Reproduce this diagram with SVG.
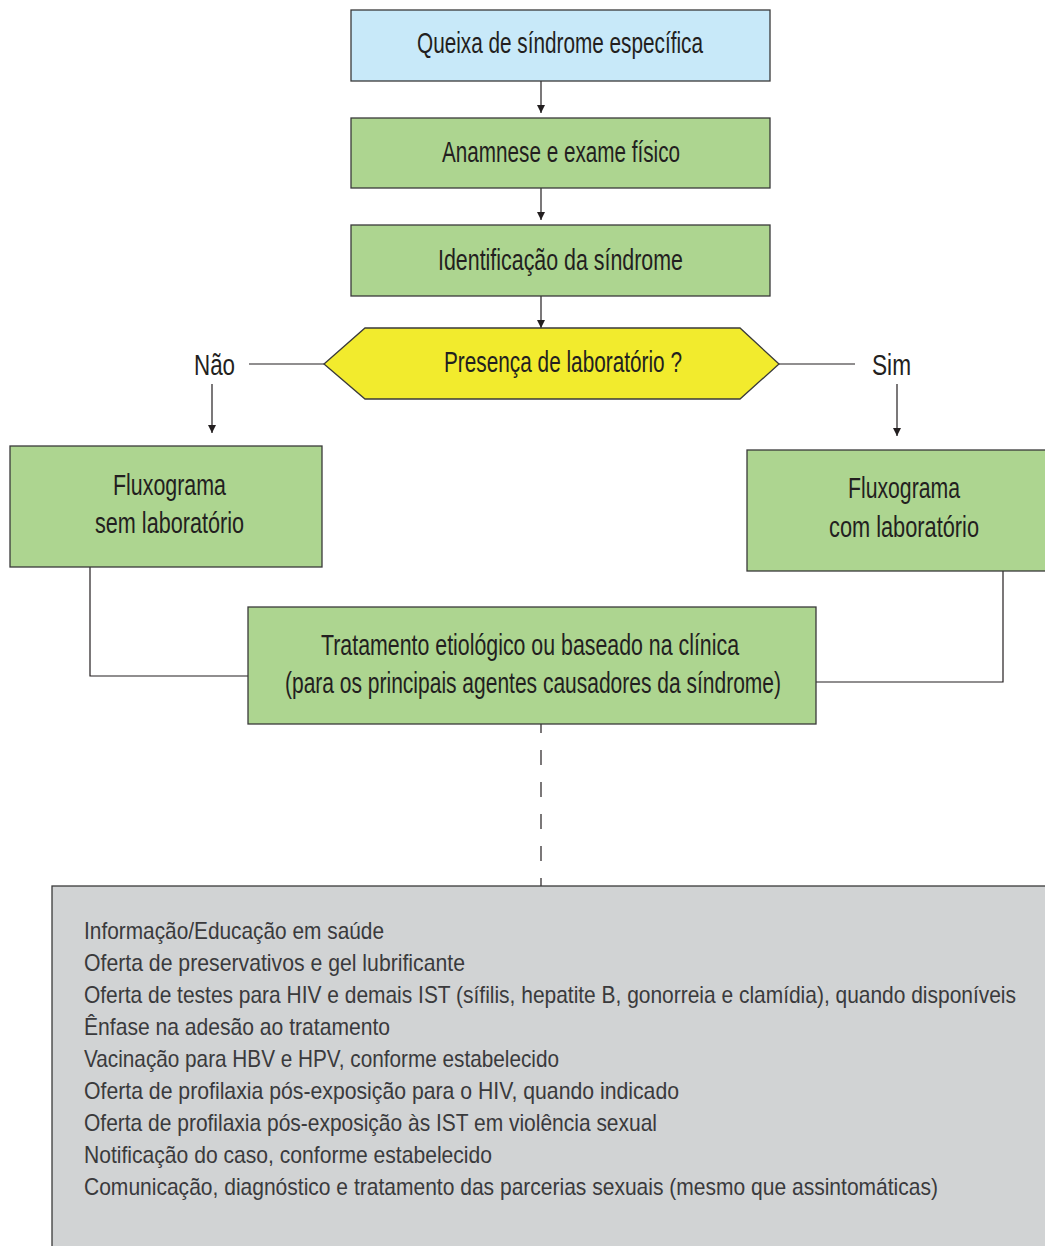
<svg xmlns="http://www.w3.org/2000/svg" width="1045" height="1246" viewBox="0 0 1045 1246">
<defs>
<style>
.box{stroke:#3a3a3a;stroke-width:1.3}
.blue{fill:#c8e9f9}
.green{fill:#add590}
.yellow{fill:#f2eb2d}
.gray{fill:#d1d3d4}
.t{font-family:"Liberation Sans Narrow","Liberation Sans",Arial,sans-serif;font-size:30px;fill:#231f20;text-anchor:middle}
.l{font-family:"Liberation Sans Narrow","Liberation Sans",Arial,sans-serif;font-size:24px;fill:#3a3a3c}
.c{stroke:#231f20;stroke-width:1.2;fill:none}
</style>
<marker id="ah" viewBox="0 0 8 10" refX="8" refY="5" markerWidth="8" markerHeight="10" markerUnits="userSpaceOnUse" orient="auto">
<path d="M0,1 L8,5 L0,9 Z" fill="#231f20"/>
</marker>
</defs>
<rect width="1045" height="1246" fill="#ffffff"/>
<g id="connectors">
<line class="c" x1="541" y1="81" x2="541" y2="113" marker-end="url(#ah)"/>
<line class="c" x1="541" y1="188" x2="541" y2="220" marker-end="url(#ah)"/>
<line class="c" x1="541" y1="296" x2="541" y2="328" marker-end="url(#ah)"/>
<line class="c" x1="249" y1="364" x2="324" y2="364"/>
<line class="c" x1="779" y1="364" x2="855" y2="364"/>
<line class="c" x1="212" y1="384" x2="212" y2="433" marker-end="url(#ah)"/>
<line class="c" x1="897" y1="384" x2="897" y2="436" marker-end="url(#ah)"/>
<polyline class="c" points="90,567 90,676 248,676"/>
<polyline class="c" points="1003,571 1003,682 816,682"/>
<line class="c" x1="541" y1="724" x2="541" y2="886" stroke-width="1.6" stroke-dasharray="15 17" stroke-dashoffset="6"/>
</g>
<g id="n1">
<rect class="box blue" x="351" y="10" width="419" height="71"/>
<text class="t" x="560" y="53" textLength="286" lengthAdjust="spacingAndGlyphs">Queixa de síndrome específica</text>
</g>
<g id="n2">
<rect class="box green" x="351" y="118" width="419" height="70"/>
<text class="t" x="561" y="162" textLength="238" lengthAdjust="spacingAndGlyphs">Anamnese e exame físico</text>
</g>
<g id="n3">
<rect class="box green" x="351" y="225" width="419" height="71"/>
<text class="t" x="560.5" y="270" textLength="245" lengthAdjust="spacingAndGlyphs">Identificação da síndrome</text>
</g>
<g id="n4">
<polygon class="box yellow" points="324,364 365,328 740,328 779,364 740,399 365,399"/>
<text class="t" x="563" y="372" textLength="238" lengthAdjust="spacingAndGlyphs">Presença de laboratório ?</text>
</g>
<g id="lbl-nao">
<text class="t" x="214.5" y="375" textLength="41" lengthAdjust="spacingAndGlyphs">Não</text>
</g>
<g id="lbl-sim">
<text class="t" x="891.5" y="375" textLength="39" lengthAdjust="spacingAndGlyphs">Sim</text>
</g>
<g id="n5">
<rect class="box green" x="10" y="446" width="312" height="121"/>
<text class="t" x="169.5" y="495" textLength="113" lengthAdjust="spacingAndGlyphs">Fluxograma</text>
<text class="t" x="169.5" y="533" textLength="149" lengthAdjust="spacingAndGlyphs">sem laboratório</text>
</g>
<g id="n6">
<rect class="box green" x="747" y="450" width="320" height="121"/>
<text class="t" x="904" y="498" textLength="112" lengthAdjust="spacingAndGlyphs">Fluxograma</text>
<text class="t" x="904" y="537" textLength="150" lengthAdjust="spacingAndGlyphs">com laboratório</text>
</g>
<g id="n7">
<rect class="box green" x="248" y="607" width="568" height="117"/>
<text class="t" x="530" y="655" textLength="418" lengthAdjust="spacingAndGlyphs">Tratamento etiológico ou baseado na clínica</text>
<text class="t" x="533" y="693" textLength="496" lengthAdjust="spacingAndGlyphs">(para os principais agentes causadores da síndrome)</text>
</g>
<g id="n8">
<rect class="box gray" x="52" y="886" width="1020" height="400"/>
<text class="l" x="84" y="939" textLength="300" lengthAdjust="spacingAndGlyphs">Informação/Educação em saúde</text>
<text class="l" x="84" y="971" textLength="381" lengthAdjust="spacingAndGlyphs">Oferta de preservativos e gel lubrificante</text>
<text class="l" x="84" y="1003" textLength="932" lengthAdjust="spacingAndGlyphs">Oferta de testes para HIV e demais IST (sífilis, hepatite B, gonorreia e clamídia), quando disponíveis</text>
<text class="l" x="84" y="1035" textLength="306" lengthAdjust="spacingAndGlyphs">Ênfase na adesão ao tratamento</text>
<text class="l" x="84" y="1067" textLength="475" lengthAdjust="spacingAndGlyphs">Vacinação para HBV e HPV, conforme estabelecido</text>
<text class="l" x="84" y="1099" textLength="595" lengthAdjust="spacingAndGlyphs">Oferta de profilaxia pós-exposição para o HIV, quando indicado</text>
<text class="l" x="84" y="1131" textLength="573" lengthAdjust="spacingAndGlyphs">Oferta de profilaxia pós-exposição às IST em violência sexual</text>
<text class="l" x="84" y="1163" textLength="408" lengthAdjust="spacingAndGlyphs">Notificação do caso, conforme estabelecido</text>
<text class="l" x="84" y="1195" textLength="854" lengthAdjust="spacingAndGlyphs">Comunicação, diagnóstico e tratamento das parcerias sexuais (mesmo que assintomáticas)</text>
</g>
</svg>
